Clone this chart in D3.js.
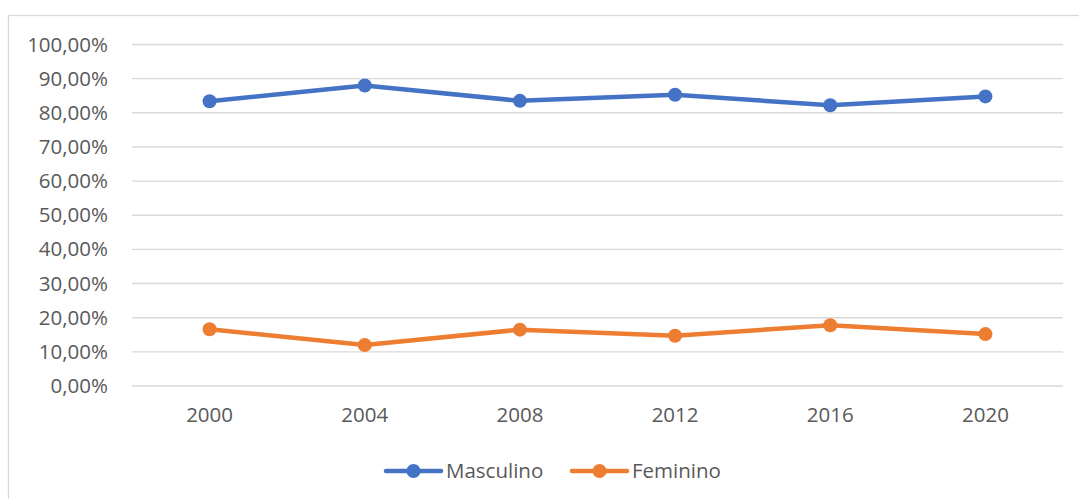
<!DOCTYPE html>
<html><head><meta charset="utf-8">
<script src="https://cdn.jsdelivr.net/npm/d3@7"></script>
<style>html,body{margin:0;padding:0;background:#fff;}svg{display:block;}</style>
</head><body>
<script>
const years = ["2000","2004","2008","2012","2016","2020"];
const masculino = [83.4, 88.0, 83.5, 85.3, 82.2, 84.8];
const feminino = [16.6, 12.0, 16.5, 14.7, 17.8, 15.2];
const seriesNames = ["Masculino","Feminino"];
const yTicks = [0,10,20,30,40,50,60,70,80,90,100];

const W = 1079, H = 499;
const colors = ["#4472C4","#ED7D31"];
const font = "'Open Sans', sans-serif";
const svg = d3.select("body").append("svg").attr("width", W).attr("height", H);

svg.append("rect").attr("x", 8.5).attr("y", 15.5).attr("width", 1100).attr("height", 600)
  .attr("fill", "none").attr("stroke", "#d9d9d9").attr("stroke-width", 1.3);

const x = d3.scaleBand().domain(years).range([132, 1063]);
const y = d3.scaleLinear().domain([0, 100]).range([386, 44.5]);

// gridlines
svg.append("g").selectAll("line").data(yTicks).join("line")
  .attr("x1", 132).attr("x2", 1063)
  .attr("y1", d => y(d)).attr("y2", d => y(d))
  .attr("stroke", "#d9d9d9").attr("stroke-width", 1.4);

const fmt = v => d3.format(".2f")(v).replace(".", ",") + "%";

const yAxis = svg.append("g").attr("transform", "translate(112,0)")
  .call(d3.axisLeft(y).tickValues(yTicks).tickFormat(fmt).tickSize(0).tickPadding(4));
yAxis.select(".domain").remove();
yAxis.selectAll("text").attr("font-family", font).attr("font-size", "20.5px").attr("fill", "#595959");

const xAxis = svg.append("g").attr("transform", "translate(0,386)")
  .call(d3.axisBottom(x).tickSize(0).tickPadding(21));
xAxis.select(".domain").remove();
xAxis.selectAll("text").attr("font-family", font).attr("font-size", "20.5px").attr("fill", "#595959");

const data = [masculino, feminino];
const line = d3.line().x((d, i) => x(years[i]) + x.bandwidth() / 2).y(d => y(d));
data.forEach((s, k) => {
  svg.append("path").datum(s).attr("d", line).attr("fill", "none")
    .attr("stroke", colors[k]).attr("stroke-width", 4.5).attr("stroke-linejoin", "round");
  svg.append("g").selectAll("circle").data(s).join("circle")
    .attr("cx", (d, i) => x(years[i]) + x.bandwidth() / 2).attr("cy", d => y(d))
    .attr("r", 7).attr("fill", colors[k]);
});

// legend
const legendX = [386, 572];
seriesNames.forEach((n, k) => {
  const g = svg.append("g").attr("transform", `translate(${legendX[k]},471)`);
  g.append("line").attr("x1", 0).attr("x2", 55).attr("y1", 0).attr("y2", 0)
    .attr("stroke", colors[k]).attr("stroke-width", 4.5).attr("stroke-linecap", "round");
  g.append("circle").attr("cx", 27.5).attr("cy", 0).attr("r", 7).attr("fill", colors[k]);
  g.append("text").attr("x", 60).attr("y", 0).attr("dy", "0.35em")
    .attr("font-family", font).attr("font-size", "20.5px").attr("fill", "#595959").text(n);
});
</script>
</body></html>
